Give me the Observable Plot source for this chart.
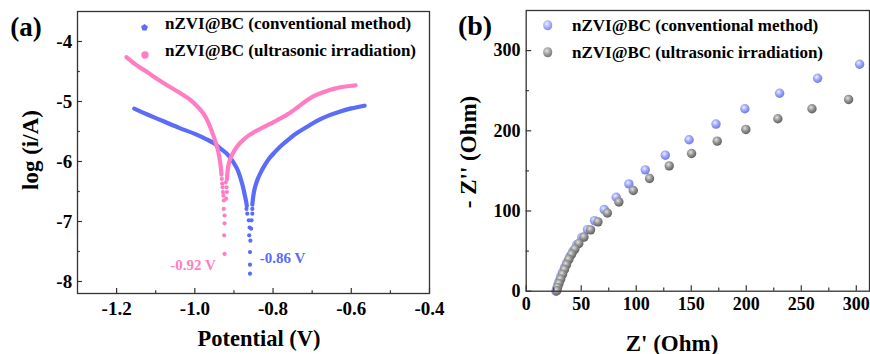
<!DOCTYPE html>
<html><head><meta charset="utf-8">
<script src="https://cdn.jsdelivr.net/npm/d3@7"></script>
<script src="https://cdn.jsdelivr.net/npm/@observablehq/plot@0.6"></script>
<style>
html,body{margin:0;padding:0;background:#fff;}
#wrap{position:relative;width:870px;height:354px;overflow:hidden;font-family:"Liberation Serif","Times New Roman",serif;font-weight:bold;color:#000;}
.abs{position:absolute;white-space:nowrap;line-height:1;}
#wrap svg{position:absolute;top:0;overflow:visible;}
#wrap svg text{font-family:"Liberation Serif","Times New Roman",serif !important;font-weight:bold;}
</style></head><body><div id="wrap"></div>
<script>
// ---------- Panel (a): Tafel curves  [potential (V), log(i/A)] ----------
const blueCathodic = [[-1.155,-5.12],[-1.12,-5.22],[-1.08,-5.33],[-1.04,-5.44],[-1.0,-5.54],[-0.97,-5.63],[-0.95,-5.70],[-0.935,-5.78],[-0.92,-5.86],[-0.908,-5.95],[-0.898,-6.05],[-0.89,-6.15],[-0.883,-6.28],[-0.877,-6.42],[-0.873,-6.54],[-0.869,-6.66],[-0.867,-6.74]];
const blueDip = [[-0.868,-6.79],[-0.866,-6.87],[-0.862,-6.98],[-0.860,-7.10],[-0.861,-7.23],[-0.858,-7.32],[-0.859,-7.51],[-0.859,-7.72],[-0.859,-7.87],[-0.853,-6.79],[-0.853,-6.87],[-0.855,-6.98],[-0.856,-7.12]];
const blueAnodic = [[-0.853,-6.72],[-0.851,-6.60],[-0.848,-6.48],[-0.844,-6.38],[-0.839,-6.29],[-0.832,-6.19],[-0.822,-6.07],[-0.81,-5.95],[-0.795,-5.84],[-0.778,-5.73],[-0.76,-5.63],[-0.74,-5.53],[-0.715,-5.43],[-0.69,-5.33],[-0.66,-5.24],[-0.63,-5.17],[-0.6,-5.115],[-0.566,-5.07]];
const pinkCathodic = [[-1.175,-4.26],[-1.15,-4.39],[-1.122,-4.51],[-1.095,-4.63],[-1.071,-4.73],[-1.045,-4.83],[-1.028,-4.90],[-1.01,-4.98],[-0.994,-5.08],[-0.978,-5.20],[-0.967,-5.33],[-0.958,-5.47],[-0.951,-5.60],[-0.945,-5.72],[-0.940,-5.84],[-0.936,-5.98],[-0.933,-6.12],[-0.932,-6.22]];
const pinkDip = [[-0.931,-6.29],[-0.930,-6.37],[-0.929,-6.43],[-0.928,-6.51],[-0.927,-6.57],[-0.926,-6.65],[-0.926,-6.79],[-0.924,-6.90],[-0.924,-7.03],[-0.925,-7.23],[-0.924,-7.54],[-0.921,-6.35],[-0.919,-6.43],[-0.918,-6.51],[-0.920,-6.62]];
const pinkAnodic = [[-0.918,-6.30],[-0.916,-6.15],[-0.913,-6.03],[-0.907,-5.92],[-0.899,-5.82],[-0.888,-5.72],[-0.876,-5.64],[-0.862,-5.565],[-0.846,-5.50],[-0.828,-5.44],[-0.806,-5.37],[-0.784,-5.29],[-0.762,-5.21],[-0.738,-5.10],[-0.716,-4.99],[-0.696,-4.91],[-0.67,-4.84],[-0.645,-4.79],[-0.615,-4.75],[-0.589,-4.73]];
const xTicksA = [-1.2,-1.0,-0.8,-0.6,-0.4];
const xMinorA = [-1.1,-0.9,-0.7,-0.5];
const yTicksA = [-8,-7,-6,-5,-4];
const yMinorA = [-7.5,-6.5,-5.5,-4.5];

// ---------- Panel (b): Nyquist plot  [Z' (Ohm), -Z'' (Ohm)] ----------
const convEIS = [[303,283],[264.8,265.5],[230.3,246.8],[198.7,227.5],[172.5,208.4],[148,188.8],[126.4,169.6],[108.2,151.3],[93.3,133.8],[81.8,117.1],[70.9,101.8],[62.1,88],[55.7,76.8],[50.5,67],[46,58],[42.5,50],[39.5,43],[37,36],[35,30],[33,24],[31.5,18.5],[30,13],[28.8,8],[27.7,3.5],[27,0]];
const ultraEIS = [[293,239],[259.7,227.5],[228.7,215],[199.6,201.7],[173.6,187.1],[150.3,171.7],[130,156.3],[112.1,140.5],[97.3,125.5],[84.2,111.3],[73.8,97.5],[65.2,86.5],[58.5,76.5],[52.5,67.5],[47.8,59.5],[44.2,52.5],[41.2,46],[38.7,39.6],[36.6,33],[34.8,27],[33,21],[31.3,15],[29.8,9.5],[28.5,4.5],[27.8,0.5]];
const xTicksB = [0,50,100,150,200,250,300];
const xMinorB = [25,75,125,175,225,275];
const yTicksB = [0,100,200,300];
const yMinorB = [50,150,250];

const seriesNames = ["nZVI@BC (conventional method)", "nZVI@BC (ultrasonic irradiation)"];
const ecorrLabels = ["-0.86 V", "-0.92 V"];

const BLUE = "#5a6cf8", PINK = "#ff7ec3", AX = "#333";
const FONT = '"Liberation Serif", "Times New Roman", serif';
const fx = d => d[0], fy = d => d[1];
const blank = () => "";

const A = Plot.plot({
  width: 450, height: 354,
  marginLeft: 77, marginRight: 21, marginTop: 11, marginBottom: 61,
  x: {domain: [-1.3, -0.4]},
  y: {domain: [-8.2, -3.5]},
  style: {fontFamily: FONT, fontWeight: "bold", background: "transparent", color: "#000"},
  marks: [
    Plot.line(blueCathodic, {x: fx, y: fy, stroke: BLUE, strokeWidth: 4.2, curve: "catmull-rom", strokeLinecap: "round"}),
    Plot.line(blueAnodic, {x: fx, y: fy, stroke: BLUE, strokeWidth: 4.2, curve: "catmull-rom", strokeLinecap: "round"}),
    Plot.dot(blueDip, {x: fx, y: fy, r: 2.1, fill: BLUE}),
    Plot.line(pinkCathodic, {x: fx, y: fy, stroke: PINK, strokeWidth: 4.2, curve: "catmull-rom", strokeLinecap: "round"}),
    Plot.line(pinkAnodic, {x: fx, y: fy, stroke: PINK, strokeWidth: 4.2, curve: "catmull-rom", strokeLinecap: "round"}),
    Plot.dot(pinkDip, {x: fx, y: fy, r: 2.1, fill: PINK}),
    Plot.axisX({ticks: xTicksA, tickSize: -5, tickFormat: blank, stroke: AX, strokeWidth: 1.2, label: null}),
    Plot.axisX({ticks: xMinorA, tickSize: -2.8, tickFormat: blank, stroke: AX, strokeWidth: 1.2, label: null}),
    Plot.axisX({ticks: xTicksA, tickSize: 0, tickPadding: 7.5, tickFormat: d => d.toFixed(1), fontSize: 19, fontFamily: FONT, fontWeight: "bold", label: null}),
    Plot.axisY({ticks: yTicksA, tickSize: -5, tickFormat: blank, stroke: AX, strokeWidth: 1.2, label: null}),
    Plot.axisY({ticks: yMinorA, tickSize: -2.8, tickFormat: blank, stroke: AX, strokeWidth: 1.2, label: null}),
    Plot.axisY({ticks: yTicksA, tickSize: 0, tickPadding: 5.3, tickFormat: d => String(d), fontSize: 19, fontFamily: FONT, fontWeight: "bold", label: null}),
    Plot.frame({stroke: AX, strokeWidth: 1.3})
  ]
});

const B = Plot.plot({
  width: 435, height: 354,
  marginLeft: 90.7, marginRight: 1, marginTop: 10, marginBottom: 63.3,
  x: {domain: [0, 312]},
  y: {domain: [0, 350]},
  style: {fontFamily: FONT, fontWeight: "bold", background: "transparent", color: "#000"},
  marks: [
    Plot.dot(convEIS, {x: fx, y: fy, r: 4.7, fill: "url(#gBlue)"}),
    Plot.dot(ultraEIS, {x: fx, y: fy, r: 4.7, fill: "url(#gGray)"}),
    Plot.axisX({ticks: xTicksB, tickSize: -5.5, tickFormat: blank, stroke: AX, strokeWidth: 1.2, label: null}),
    Plot.axisX({ticks: xMinorB, tickSize: -3.2, tickFormat: blank, stroke: AX, strokeWidth: 1.2, label: null}),
    Plot.axisX({ticks: xTicksB, tickSize: 0, tickPadding: 6.5, tickFormat: d => String(d), fontSize: 18, fontFamily: FONT, fontWeight: "bold", label: null}),
    Plot.axisY({ticks: yTicksB, tickSize: -5.5, tickFormat: blank, stroke: AX, strokeWidth: 1.2, label: null}),
    Plot.axisY({ticks: yMinorB, tickSize: -3.2, tickFormat: blank, stroke: AX, strokeWidth: 1.2, label: null}),
    Plot.axisY({ticks: yTicksB, tickSize: 0, tickPadding: 5.7, tickFormat: d => String(d), fontSize: 18, fontFamily: FONT, fontWeight: "bold", label: null}),
    Plot.frame({stroke: AX, strokeWidth: 1.3})
  ]
});
d3.select(B).insert("defs", ":first-child").html(
  '<radialGradient id="gBlue" cx="0.4" cy="0.36" r="0.66">' +
  '<stop offset="0" stop-color="#eef0ff"/><stop offset="0.45" stop-color="#a3acfa"/><stop offset="1" stop-color="#6b76e6"/></radialGradient>' +
  '<radialGradient id="gGray" cx="0.4" cy="0.36" r="0.66">' +
  '<stop offset="0" stop-color="#e2e2e2"/><stop offset="0.45" stop-color="#9a9a9a"/><stop offset="1" stop-color="#5c5c5c"/></radialGradient>'
);

const wrap = document.getElementById("wrap");
A.style.left = "0px";
B.style.left = "435px";
wrap.appendChild(A);
wrap.appendChild(B);

function addText(txt, x, y, size, opts = {}) {
  const d = document.createElement("div");
  d.className = "abs";
  d.textContent = txt;
  d.style.fontSize = size + "px";
  d.style.left = x + "px";
  d.style.top = y + "px";
  d.style.color = opts.color || "#000";
  const tx = opts.anchor === "middle" ? "-50%" : "0";
  d.style.transform = `translate(${tx},-50%)`;
  if (opts.rotate) { d.style.transform = `translate(-50%,-50%) rotate(${opts.rotate}deg)`; }
  wrap.appendChild(d);
  return d;
}
function addMarker(x, y, html) {
  const d = document.createElement("div");
  d.className = "abs";
  d.style.left = x + "px"; d.style.top = y + "px";
  d.style.transform = "translate(-50%,-50%)";
  d.innerHTML = html;
  wrap.appendChild(d);
}

// panel labels
addText("(a)", 26, 27, 27, {anchor: "middle"});
addText("(b)", 475, 26, 28, {anchor: "middle"});
// axis titles
addText("Potential (V)", 259, 339, 22.5, {anchor: "middle"});
addText("log (i/A)", 30, 150, 23, {rotate: -90});
addText("Z' (Ohm)", 672, 343, 23, {anchor: "middle"});
addText("- Z'' (Ohm)", 468, 152, 23, {rotate: -90});
// E_corr annotations
addText(ecorrLabels[1], 193, 265, 15, {anchor: "middle", color: PINK});
addText(ecorrLabels[0], 282.5, 258, 15, {anchor: "middle", color: BLUE});
// legend (a)
addMarker(140, 23, `<svg width="9" height="9" viewBox="-4.5 -4.5 9 9" style="display:block"><polygon points="0,-3.6 3.4,-1.1 2.1,2.9 -2.1,2.9 -3.4,-1.1" fill="${BLUE}"/></svg>`);
addMarker(140, 50, `<svg width="10" height="10" viewBox="-5 -5 10 10" style="display:block"><circle r="3.7" fill="${PINK}"/></svg>`);
addText(seriesNames[0], 165, 23, 17);
addText(seriesNames[1], 165, 50, 17);
// legend (b)
const sph = (c0, c1, c2) => `<div style="width:9.6px;height:9.6px;border-radius:50%;background:radial-gradient(circle at 40% 36%, ${c0} 0%, ${c1} 45%, ${c2} 100%)"></div>`;
addMarker(547.7, 25, sph("#eef0ff", "#a3acfa", "#6b76e6"));
addMarker(547.7, 52, sph("#e2e2e2", "#9a9a9a", "#5c5c5c"));
addText(seriesNames[0], 572, 25, 17);
addText(seriesNames[1], 572, 52, 17);
</script></body></html>
